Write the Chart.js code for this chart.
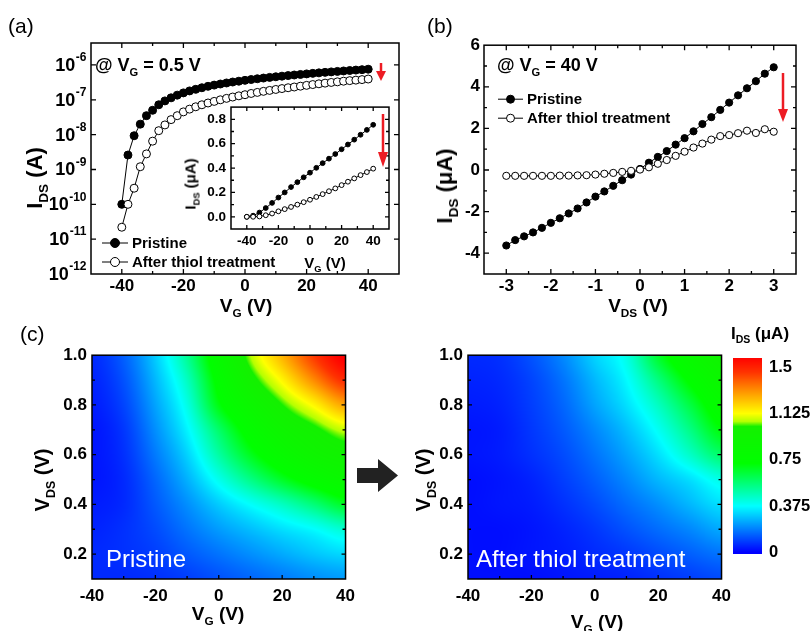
<!DOCTYPE html>
<html>
<head>
<meta charset="utf-8">
<title>Transfer and output characteristics</title>
<script src="https://cdn.jsdelivr.net/npm/chart.js@4.4.1/dist/chart.umd.min.js"></script>
<style>
  html, body { margin: 0; padding: 0; background: #fff; }
  #fig { position: relative; width: 812px; height: 631px; overflow: hidden; font-family: "Liberation Sans", Arial, sans-serif; }
  #fig canvas { position: absolute; }
  .t { position: absolute; white-space: nowrap; font-weight: bold; color: #000; line-height: 1; transform: translate(-50%, -50%); }
  .t sub { font-size: 0.62em; vertical-align: -0.45em; line-height: 0; }
  .up { transform: translate(-50%, -50%) rotate(-90deg); }
  .left { transform: translate(0, -50%); }
  .tag { position: absolute; font-size: 21px; color: #000; line-height: 1; }
  svg { position: absolute; left: 0; top: 0; }
</style>
</head>
<body>
<div id="fig">
  <canvas id="transfer"></canvas>
  <canvas id="transferLin"></canvas>
  <canvas id="output"></canvas>
  <canvas id="mapPristine"></canvas>
  <canvas id="mapTreated"></canvas>
  <canvas id="colourBar"></canvas>

  <div class="tag" style="left:8px;top:15px">(a)</div>
  <div class="tag" style="left:427px;top:15px">(b)</div>
  <div class="tag" style="left:20px;top:323px">(c)</div>

  <div class="t up" style="left:35px;top:178px;font-size:22px">I<sub>DS</sub> (A)</div>
  <div class="t" style="left:246px;top:305px;font-size:19px">V<sub>G</sub> (V)</div>
  <div class="t left" style="left:95px;top:65px;font-size:18px">@ V<sub>G</sub> = 0.5 V</div>
  <div class="t up" style="left:190px;top:184px;font-size:15px">I<sub>DS</sub> (&mu;A)</div>
  <div class="t" style="left:325px;top:262px;font-size:15px">V<sub>G</sub> (V)</div>

  <div class="t up" style="left:445px;top:186px;font-size:22px">I<sub>DS</sub> (&mu;A)</div>
  <div class="t" style="left:638px;top:305px;font-size:19px">V<sub>DS</sub> (V)</div>
  <div class="t left" style="left:497px;top:65px;font-size:18px">@ V<sub>G</sub> = 40 V</div>

  <div class="t up" style="left:42px;top:480px;font-size:20px">V<sub>DS</sub> (V)</div>
  <div class="t" style="left:218px;top:613px;font-size:19px">V<sub>G</sub> (V)</div>
  <div class="t up" style="left:423px;top:480px;font-size:20px">V<sub>DS</sub> (V)</div>
  <div class="t" style="left:597px;top:621px;font-size:19px">V<sub>G</sub> (V)</div>
  <div class="t" style="left:760px;top:333px;font-size:17px">I<sub>DS</sub> (&mu;A)</div>

  <svg width="812" height="631">
    <g fill="#ed1c24" stroke="#ed1c24">
      <line x1="381" y1="63" x2="381" y2="73" stroke-width="2.5"/>
      <polygon points="376,71 386,71 381,81" stroke="none"/>
      <line x1="383" y1="114" x2="383" y2="154" stroke-width="2.5"/>
      <polygon points="378,152 388,152 383,167" stroke="none"/>
      <line x1="783" y1="73" x2="783" y2="111" stroke-width="2.5"/>
      <polygon points="778,109 788,109 783,122" stroke="none"/>
    </g>
    <polygon points="357,468 378,468 378,459 398,475.5 378,492 378,483 357,483" fill="#222"/>
  </svg>
</div>

<script>
const FONT = '"Liberation Sans", Arial, sans-serif';
Chart.defaults.font.family = FONT;

// transfer curves at V_DS = 0.5 V: gate voltage (V) and drain current (A)
const transferVG = [-40, -38, -36, -34, -32, -30, -28, -26, -24, -22, -20, -18, -16, -14, -12, -10, -8, -6, -4, -2,
  0, 2, 4, 6, 8, 10, 12, 14, 16, 18, 20, 22, 24, 26, 28, 30, 32, 34, 36, 38, 40];
const transferPristine = [1.0e-10, 2.6e-9, 9.3e-9, 2.0e-8, 3.5e-8, 5.0e-8, 7.2e-8, 9.3e-8, 1.14e-7, 1.36e-7,
  1.58e-7, 1.80e-7, 2.00e-7, 2.22e-7, 2.44e-7, 2.64e-7, 2.84e-7, 3.04e-7, 3.24e-7, 3.42e-7,
  3.62e-7, 3.82e-7, 4.02e-7, 4.21e-7, 4.40e-7, 4.58e-7, 4.77e-7, 4.96e-7, 5.15e-7, 5.34e-7,
  5.54e-7, 5.74e-7, 5.93e-7, 6.13e-7, 6.33e-7, 6.53e-7, 6.73e-7, 6.93e-7, 7.13e-7, 7.33e-7, 7.55e-7];
const transferTreated = [2.2e-11, 1.0e-10, 2.9e-10, 1.2e-9, 2.8e-9, 6.5e-9, 1.3e-8, 1.9e-8, 2.7e-8, 3.5e-8,
  4.5e-8, 5.4e-8, 6.3e-8, 7.2e-8, 8.1e-8, 9.0e-8, 1.0e-7, 1.1e-7, 1.2e-7, 1.3e-7,
  1.4e-7, 1.52e-7, 1.63e-7, 1.75e-7, 1.86e-7, 1.98e-7, 2.1e-7, 2.22e-7, 2.33e-7, 2.46e-7,
  2.6e-7, 2.74e-7, 2.88e-7, 3.01e-7, 3.15e-7, 3.28e-7, 3.42e-7, 3.55e-7, 3.67e-7, 3.80e-7, 3.95e-7];

// output curves at V_G = 40 V: drain voltage (V) and drain current (uA)
const outputVDS = [-3.0, -2.8, -2.6, -2.4, -2.2, -2.0, -1.8, -1.6, -1.4, -1.2, -1.0, -0.8, -0.6, -0.4, -0.2,
  0.0, 0.2, 0.4, 0.6, 0.8, 1.0, 1.2, 1.4, 1.6, 1.8, 2.0, 2.2, 2.4, 2.6, 2.8, 3.0];
const outputPristine = [-3.63, -3.37, -3.19, -3.00, -2.78, -2.54, -2.32, -2.09, -1.85, -1.56, -1.28, -1.03, -0.76, -0.49, -0.22,
  0.05, 0.35, 0.63, 0.91, 1.22, 1.53, 1.86, 2.21, 2.54, 2.89, 3.24, 3.59, 3.93, 4.27, 4.63, 4.94];
const outputTreated = [-0.28, -0.28, -0.28, -0.28, -0.28, -0.28, -0.27, -0.27, -0.26, -0.25, -0.22, -0.18, -0.14, -0.09, -0.04,
  0.02, 0.13, 0.30, 0.48, 0.68, 0.88, 1.08, 1.27, 1.46, 1.63, 1.68, 1.77, 1.89, 1.78, 1.96, 1.84];

// current maps (uA): one row per mapVDS entry, one column per mapVG entry
const mapVG = [-40, -30, -20, -10, 0, 10, 20, 30, 40];
const mapVDS = [0.1, 0.2, 0.3, 0.4, 0.5, 0.6, 0.7, 0.8, 0.9, 1.0];
const mapPristine = [
  [0.06, 0.06, 0.07, 0.09, 0.12, 0.15, 0.18, 0.21, 0.23],
  [0.06, 0.07, 0.09, 0.13, 0.17, 0.21, 0.25, 0.29, 0.32],
  [0.05, 0.07, 0.11, 0.17, 0.23, 0.28, 0.33, 0.375, 0.44],
  [0.04, 0.06, 0.13, 0.21, 0.30, 0.38, 0.46, 0.56, 0.67],
  [0.03, 0.06, 0.15, 0.26, 0.40, 0.54, 0.67, 0.78, 0.86],
  [0.03, 0.07, 0.18, 0.31, 0.50, 0.68, 0.82, 0.92, 0.97],
  [0.03, 0.08, 0.21, 0.36, 0.58, 0.78, 0.92, 1.00, 1.08],
  [0.04, 0.10, 0.24, 0.41, 0.70, 0.88, 1.02, 1.14, 1.28],
  [0.05, 0.12, 0.27, 0.46, 0.76, 0.98, 1.14, 1.32, 1.48],
  [0.06, 0.14, 0.30, 0.52, 0.82, 1.06, 1.25, 1.45, 1.60]
];
const mapTreated = [
  [0.02, 0.02, 0.02, 0.03, 0.04, 0.05, 0.07, 0.09, 0.11],
  [0.02, 0.02, 0.03, 0.04, 0.06, 0.08, 0.11, 0.14, 0.17],
  [0.02, 0.02, 0.03, 0.05, 0.08, 0.12, 0.16, 0.20, 0.25],
  [0.02, 0.03, 0.04, 0.07, 0.11, 0.16, 0.21, 0.27, 0.33],
  [0.02, 0.03, 0.05, 0.09, 0.14, 0.20, 0.27, 0.33, 0.41],
  [0.03, 0.04, 0.07, 0.11, 0.17, 0.24, 0.33, 0.45, 0.58],
  [0.03, 0.04, 0.08, 0.13, 0.20, 0.28, 0.39, 0.54, 0.71],
  [0.04, 0.05, 0.09, 0.15, 0.24, 0.33, 0.46, 0.63, 0.80],
  [0.05, 0.06, 0.10, 0.17, 0.27, 0.37, 0.55, 0.74, 0.88],
  [0.06, 0.07, 0.12, 0.20, 0.31, 0.41, 0.66, 0.84, 0.95]
];

// tick positions
const transferTicks = [-40, -20, 0, 20, 40];
const transferDecades = [-12, -11, -10, -9, -8, -7, -6];
const insetTicksY = [0.0, 0.2, 0.4, 0.6, 0.8];
const outputTicksX = [-3, -2, -1, 0, 1, 2, 3];
const outputTicksY = [-4, -2, 0, 2, 4, 6];
const mapTicksX = [-40, -20, 0, 20, 40];
const mapTicksY = [0.2, 0.4, 0.6, 0.8, 1.0];
const barTicks = [0, 0.375, 0.75, 1.125, 1.5];

// rainbow scale used by both maps and the colour bar
const colourStops = [
  [0.0, [0, 0, 255]], [0.375, [0, 255, 255]], [0.72, [0, 255, 0]], [1.02, [20, 240, 0]],
  [1.06, [180, 255, 0]], [1.125, [255, 255, 0]], [1.3, [255, 150, 0]], [1.46, [255, 50, 0]], [1.58, [255, 0, 0]]
];

function colourAt(v) {
  const s = colourStops;
  if (v <= s[0][0]) return s[0][1];
  for (let k = 1; k < s.length; k++) {
    if (v <= s[k][0]) {
      const t = (v - s[k - 1][0]) / (s[k][0] - s[k - 1][0]);
      return s[k - 1][1].map((c, j) => Math.round(c + (s[k][1][j] - c) * t));
    }
  }
  return s[s.length - 1][1];
}

function locate(vals, v) {
  const n = vals.length;
  if (v <= vals[0]) return { i: 0, t: 0 };
  if (v >= vals[n - 1]) return { i: n - 2, t: 1 };
  let i = 0;
  while (vals[i + 1] < v) i++;
  return { i, t: (v - vals[i]) / (vals[i + 1] - vals[i]) };
}

// Catmull-Rom blend between grid nodes, so the shading has no creases
function cubic(p0, p1, p2, p3, t) {
  return p1 + 0.5 * t * (p2 - p0 + t * (2 * p0 - 5 * p1 + 4 * p2 - p3 + t * (3 * (p1 - p2) + p3 - p0)));
}

function sampleMap(grid, vg, vds) {
  const fx = locate(mapVG, vg), fy = locate(mapVDS, vds);
  const nx = mapVG.length, ny = mapVDS.length;
  const cl = (i, n) => Math.max(0, Math.min(n - 1, i));
  const rows = [-1, 0, 1, 2].map(d => {
    const r = grid[cl(fy.i + d, ny)];
    return cubic(r[cl(fx.i - 1, nx)], r[fx.i], r[fx.i + 1], r[cl(fx.i + 2, nx)], fx.t);
  });
  return cubic(rows[0], rows[1], rows[2], rows[3], fy.t);
}

function minorTicks(ticks, min, max) {
  const h = (ticks[1] - ticks[0]) / 2, out = [];
  for (let v = ticks[0] - h; v <= max + 1e-9; v += 2 * h) if (v >= min - 1e-9) out.push(v);
  return out;
}

function place(id, left, top, w, h) {
  const c = document.getElementById(id);
  c.width = w; c.height = h;
  c.style.left = left + 'px'; c.style.top = top + 'px';
  return c;
}

function axis(o) {
  return {
    type: o.type || 'linear',
    position: o.position,
    display: o.display !== false,
    min: o.min, max: o.max,
    afterFit: s => { if (s.isHorizontal()) s.height = o.size; else s.width = o.size; },
    afterBuildTicks: s => { if (o.ticks) s.ticks = o.ticks.map(v => ({ value: v })); },
    grid: { display: false, drawTicks: false },
    border: { display: false },
    ticks: {
      display: o.labels !== false,
      padding: o.pad === undefined ? 4 : o.pad,
      color: '#000',
      autoSkip: false,
      maxRotation: 0,
      font: { family: FONT, weight: 'bold', size: o.font || 17 },
      callback: o.fmt || (v => String(v))
    }
  };
}

function series(label, xs, ys, filled, r) {
  return {
    label,
    data: xs.map((x, i) => ({ x, y: ys[i] })),
    showLine: true,
    borderColor: '#000',
    borderWidth: 1,
    pointRadius: r,
    pointBorderWidth: 1,
    pointBackgroundColor: filled ? '#000' : '#fff',
    pointBorderColor: '#000',
    order: filled ? 1 : 0
  };
}

function options(pad, scales) {
  return {
    responsive: false, animation: false, events: [],
    layout: { padding: pad },
    plugins: { legend: { display: false }, tooltip: { enabled: false } },
    scales
  };
}

// box round the plot area with inward ticks
function frame(spec) {
  return {
    id: 'frame',
    afterDatasetsDraw(chart) {
      const { ctx, chartArea: a, scales } = chart;
      ctx.save();
      ctx.strokeStyle = '#000';
      ctx.lineWidth = 1.3;
      ctx.beginPath();
      const mark = (scale, vals, len) => vals.forEach(v => {
        const p = scale.getPixelForValue(v);
        if (scale.isHorizontal()) {
          if (p <= a.left + 0.5 || p >= a.right - 0.5) return;
          ctx.moveTo(p, a.bottom); ctx.lineTo(p, a.bottom - len);
          if (spec.top) { ctx.moveTo(p, a.top); ctx.lineTo(p, a.top + len); }
        } else {
          if (p <= a.top + 0.5 || p >= a.bottom - 0.5) return;
          ctx.moveTo(a.left, p); ctx.lineTo(a.left + len, p);
          if (spec.right) { ctx.moveTo(a.right, p); ctx.lineTo(a.right - len, p); }
        }
      });
      mark(scales.x, spec.x, spec.len || 5);
      mark(scales.x, spec.xMinor || [], 3);
      mark(scales.y, spec.y, spec.len || 5);
      mark(scales.y, spec.yMinor || [], 3);
      ctx.stroke();
      ctx.lineWidth = 1.5;
      ctx.strokeRect(a.left, a.top, a.right - a.left, a.bottom - a.top);
      ctx.restore();
    }
  };
}

// legend rows drawn inside the plot, styled from the datasets
function key(dx, dy, gap, len, r) {
  return {
    id: 'key',
    afterDatasetsDraw(chart) {
      const { ctx, chartArea: a } = chart;
      ctx.save();
      chart.data.datasets.forEach((ds, i) => {
        const x0 = a.left + dx, y = a.top + dy + i * gap;
        ctx.strokeStyle = '#000';
        ctx.lineWidth = 1;
        ctx.beginPath(); ctx.moveTo(x0, y); ctx.lineTo(x0 + len, y); ctx.stroke();
        ctx.beginPath(); ctx.arc(x0 + len / 2, y, r, 0, Math.PI * 2);
        ctx.fillStyle = ds.pointBackgroundColor; ctx.fill(); ctx.stroke();
        ctx.fillStyle = '#000';
        ctx.font = 'bold 15px ' + FONT;
        ctx.textBaseline = 'middle';
        ctx.fillText(ds.label, x0 + len + 4, y + 1);
      });
      ctx.restore();
    }
  };
}

// powers of ten on the log axis
const decadeLabels = {
  id: 'decades',
  afterDraw(chart) {
    const { ctx, chartArea: a, scales: { y } } = chart;
    ctx.save();
    ctx.fillStyle = '#000';
    ctx.textBaseline = 'middle';
    transferDecades.forEach(e => {
      const py = y.getPixelForValue(Math.pow(10, e));
      const sup = String(e);
      ctx.font = 'bold 12px ' + FONT;
      const ws = ctx.measureText(sup).width;
      ctx.font = 'bold 18px ' + FONT;
      const wb = ctx.measureText('10').width;
      const x = a.left - 5 - ws - wb;
      ctx.fillText('10', x, py + 1);
      ctx.font = 'bold 12px ' + FONT;
      ctx.fillText(sup, x + wb + 0.5, py - 7);
    });
    ctx.restore();
  }
};

const paper = {
  id: 'paper',
  beforeDraw(chart) {
    const { ctx, chartArea: a } = chart;
    ctx.save();
    ctx.fillStyle = '#fff';
    ctx.fillRect(a.left, a.top, a.right - a.left, a.bottom - a.top);
    ctx.restore();
  }
};

// colour map painted pixel by pixel through the chart scales
function heatLayer(grid, label, dx) {
  return {
    id: 'heat',
    beforeDatasetsDraw(chart) {
      const { ctx, chartArea: a, scales: { x, y } } = chart;
      const w = Math.round(a.right - a.left), h = Math.round(a.bottom - a.top);
      const off = document.createElement('canvas');
      off.width = w; off.height = h;
      const octx = off.getContext('2d');
      const img = octx.createImageData(w, h);
      for (let j = 0; j < h; j++) {
        const vds = y.getValueForPixel(a.top + j + 0.5);
        for (let i = 0; i < w; i++) {
          const vg = x.getValueForPixel(a.left + i + 0.5);
          const c = colourAt(sampleMap(grid, vg, vds));
          const k = (j * w + i) * 4;
          img.data[k] = c[0]; img.data[k + 1] = c[1]; img.data[k + 2] = c[2]; img.data[k + 3] = 255;
        }
      }
      octx.putImageData(img, 0, 0);
      ctx.drawImage(off, Math.round(a.left), Math.round(a.top));
      ctx.save();
      ctx.fillStyle = '#fff';
      ctx.font = '24px ' + FONT;
      ctx.textBaseline = 'alphabetic';
      ctx.fillText(label, a.left + dx, a.bottom - 12);
      ctx.restore();
    }
  };
}

const colourRamp = {
  id: 'ramp',
  beforeDatasetsDraw(chart) {
    const { ctx, chartArea: a, scales: { y } } = chart;
    ctx.save();
    for (let py = Math.round(a.top); py < Math.round(a.bottom); py++) {
      const c = colourAt(y.getValueForPixel(py + 0.5));
      ctx.fillStyle = 'rgb(' + c.join(',') + ')';
      ctx.fillRect(a.left, py, a.right - a.left, 1);
    }
    ctx.restore();
  }
};

// (a) transfer curves on a log axis
new Chart(place('transfer', 0, 31, 411, 275), {
  type: 'scatter',
  data: { datasets: [
    series('Pristine', transferVG, transferPristine, true, 4),
    series('After thiol treatment', transferVG, transferTreated, false, 4)
  ] },
  options: options({ left: 0, top: 12, right: 12, bottom: 2 }, {
    x: axis({ min: -50, max: 50, size: 30, ticks: transferTicks, pad: 2 }),
    y: axis({ type: 'logarithmic', min: 1e-12, max: 4.27e-6, size: 91, labels: false })
  }),
  plugins: [frame({ x: transferTicks, xMinor: minorTicks(transferTicks, -50, 50),
    y: transferDecades.map(e => Math.pow(10, e)), top: true, right: true }),
    decadeLabels, key(11, 200, 19, 26, 4.5)]
});

// (a) inset: the same sweep on a linear axis, every second point
const insetVG = transferVG.filter((_, i) => i % 2 === 0);
const insetPristine = transferPristine.filter((_, i) => i % 2 === 0).map(v => v * 1e6);
const insetTreated = transferTreated.filter((_, i) => i % 2 === 0).map(v => v * 1e6);

new Chart(place('transferLin', 191, 94, 206, 155), {
  type: 'scatter',
  data: { datasets: [
    series('Pristine', insetVG, insetPristine, true, 2.4),
    series('After thiol treatment', insetVG, insetTreated, false, 2.4)
  ] },
  options: options({ left: 0, top: 8, right: 8, bottom: 2 }, {
    x: axis({ min: -50, max: 50, size: 18, ticks: transferTicks, pad: 4, font: 13.5 }),
    y: axis({ min: -0.1, max: 0.9, size: 40, ticks: insetTicksY, pad: 5, font: 13.5, fmt: v => v.toFixed(1) })
  }),
  plugins: [paper, frame({ x: transferTicks, xMinor: minorTicks(transferTicks, -50, 50),
    y: insetTicksY, yMinor: minorTicks(insetTicksY, -0.1, 0.9), top: true, right: true, len: 4 })]
});

// (b) output curves
new Chart(place('output', 444, 31, 366, 275), {
  type: 'scatter',
  data: { datasets: [
    series('Pristine', outputVDS, outputPristine, true, 3.6),
    series('After thiol treatment', outputVDS, outputTreated, false, 3.6)
  ] },
  options: options({ left: 0, top: 12, right: 14, bottom: 2 }, {
    x: axis({ min: -3.5, max: 3.5, size: 30, ticks: outputTicksX, pad: 2 }),
    y: axis({ min: -5, max: 6, size: 40, ticks: outputTicksY, pad: 4 })
  }),
  plugins: [frame({ x: outputTicksX, xMinor: minorTicks(outputTicksX, -3.5, 3.5),
    y: outputTicksY, yMinor: minorTicks(outputTicksY, -5, 6), top: true, right: true }),
    key(14, 54, 19, 25, 4)]
});

// (c) current maps
function mapChart(id, left, grid, label, dx) {
  return new Chart(place(id, left, 340, 320, 269), {
    type: 'scatter',
    data: { datasets: [] },
    options: options({ left: 0, top: 12, right: 14, bottom: 2 }, {
      x: axis({ min: -40, max: 40, size: 28, ticks: mapTicksX, pad: 7 }),
      y: axis({ min: 0.1, max: 1.0, size: 50, ticks: mapTicksY, pad: 5, fmt: v => v.toFixed(1) })
    }),
    plugins: [heatLayer(grid, label, dx), frame({ x: mapTicksX, xMinor: minorTicks(mapTicksX, -40, 40),
      y: mapTicksY, yMinor: minorTicks(mapTicksY, 0.1, 1.0), right: true, len: 4 })]
  });
}
mapChart('mapPristine', 42, mapPristine, 'Pristine', 14);
mapChart('mapTreated', 418, mapTreated, 'After thiol treatment', 8);

new Chart(place('colourBar', 731, 341, 81, 230), {
  type: 'scatter',
  data: { datasets: [] },
  options: options({ left: 2, top: 12, right: 0, bottom: 2 }, {
    x: { type: 'linear', display: false, min: 0, max: 1 },
    y: axis({ position: 'right', min: -0.015, max: 1.575, size: 50, ticks: barTicks, pad: 7, font: 16.5 })
  }),
  plugins: [colourRamp]
});
</script>
</body>
</html>
